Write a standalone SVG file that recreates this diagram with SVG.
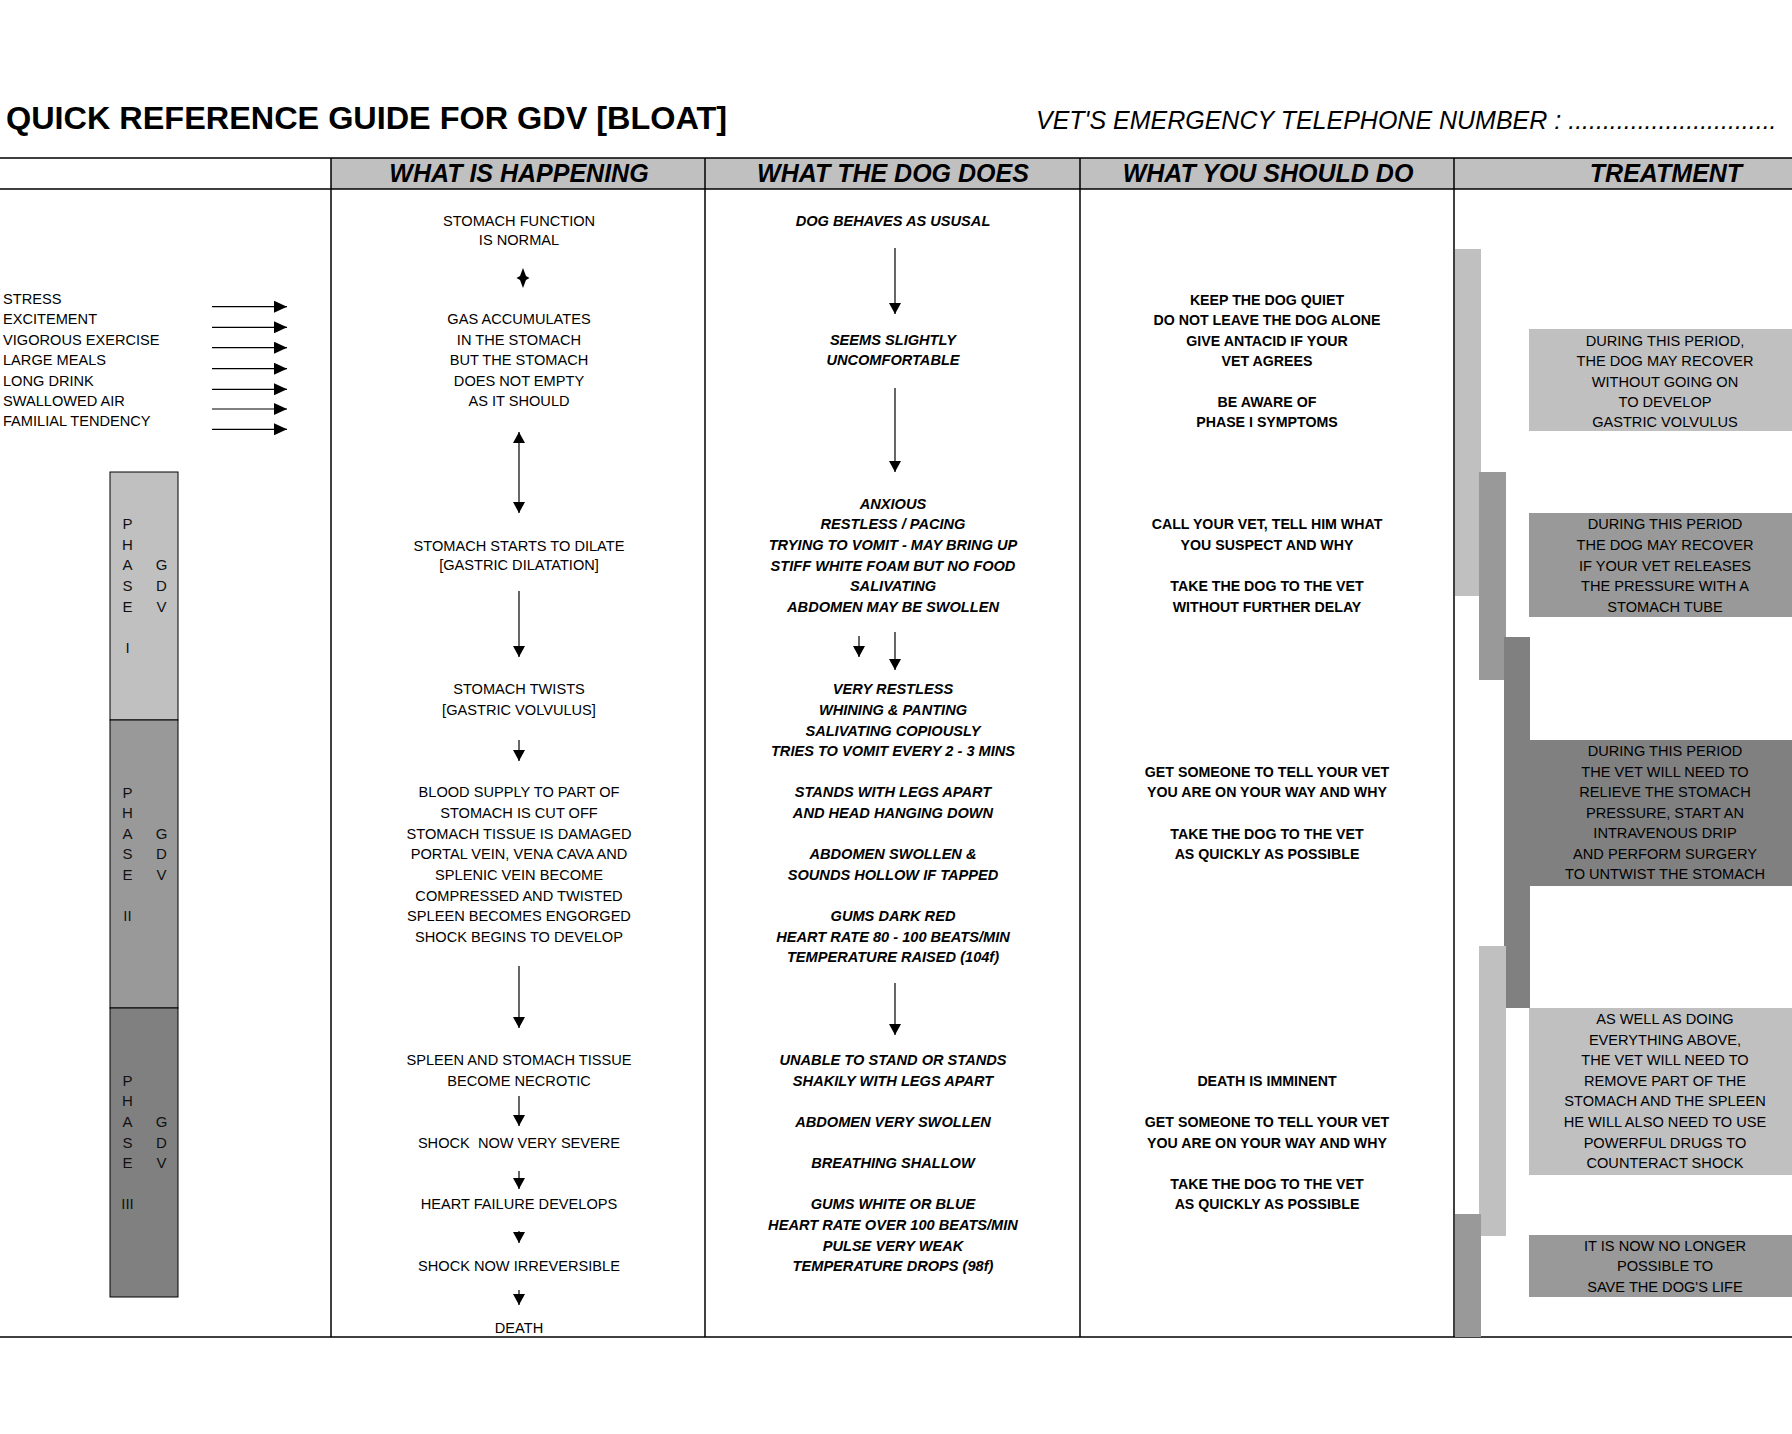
<svg xmlns="http://www.w3.org/2000/svg" width="1792" height="1434" viewBox="0 0 1792 1434">
<style>
text{font-family:"Liberation Sans",Arial,sans-serif;fill:#000}
.t{font-size:14.6px;text-anchor:middle}
.l{font-size:14.6px}
.bi{font-size:14.6px;text-anchor:middle;font-weight:bold;font-style:italic}
.b{font-size:14.2px;text-anchor:middle;font-weight:bold}
.ph{font-size:15px;text-anchor:middle;fill:#111}
.hd{font-size:25px;text-anchor:middle;font-weight:bold;font-style:italic}
.tl{stroke:#000;stroke-width:1.5;fill:none}
.ar{stroke:#000;stroke-width:1.2;fill:none;marker-end:url(#ah)}
.ar2{stroke:#000;stroke-width:1.2;fill:none;marker-end:url(#ah);marker-start:url(#ah)}
.arl{stroke:#000;stroke-width:1.2;fill:none;marker-end:url(#ahL)}
.g1{fill:#c0c0c0}
.g2{fill:#999999}
.g3{fill:#808080}
</style>
<defs>
<marker id="ah" viewBox="0 0 11 12" refX="11" refY="6" markerWidth="11" markerHeight="12" markerUnits="userSpaceOnUse" orient="auto-start-reverse"><path d="M0,0 L11,6 L0,12 z" fill="#000"/></marker>
<marker id="ahL" viewBox="0 0 13 12" refX="13" refY="6" markerWidth="13" markerHeight="12" markerUnits="userSpaceOnUse" orient="auto"><path d="M0,0 L13,6 L0,12 z" fill="#000"/></marker>
</defs>
<rect width="1792" height="1434" fill="#fff"/>

<g id="title">
<text x="6" y="129" style="font-size:32px;font-weight:bold" textLength="721" lengthAdjust="spacingAndGlyphs">QUICK REFERENCE GUIDE FOR GDV [BLOAT]</text>
<text x="1036" y="129" style="font-size:25px;font-style:italic">VET'S EMERGENCY TELEPHONE NUMBER : ..............................</text>
</g>

<g id="table">
<rect x="331" y="158" width="1461" height="31" class="g1"/>
<line x1="0" y1="158" x2="1792" y2="158" class="tl"/>
<line x1="0" y1="189" x2="1792" y2="189" class="tl"/>
<line x1="0" y1="1337" x2="1792" y2="1337" class="tl"/>
<line x1="331" y1="158" x2="331" y2="1337" class="tl"/>
<line x1="705" y1="158" x2="705" y2="1337" class="tl"/>
<line x1="1080" y1="158" x2="1080" y2="1337" class="tl"/>
<line x1="1454" y1="158" x2="1454" y2="1337" class="tl"/>
<text x="519" y="182" class="hd">WHAT IS HAPPENING</text>
<text x="893" y="182" class="hd">WHAT THE DOG DOES</text>
<text x="1268" y="182" class="hd">WHAT YOU SHOULD DO</text>
<text x="1666" y="182" class="hd">TREATMENT</text>
</g>

<g id="risk-factors">
<text x="3" y="304" class="l">STRESS</text>
<text x="3" y="324" class="l">EXCITEMENT</text>
<text x="3" y="344.5" class="l">VIGOROUS EXERCISE</text>
<text x="3" y="365" class="l">LARGE MEALS</text>
<text x="3" y="386" class="l">LONG DRINK</text>
<text x="3" y="406" class="l">SWALLOWED AIR</text>
<text x="3" y="426" class="l">FAMILIAL TENDENCY</text>
</g>

<g id="phase-1">
<rect x="110" y="472" width="68" height="248" class="g1" stroke="#000" stroke-width="1"/>
<text x="127.5" y="529" class="ph">P</text>
<text x="127.5" y="550" class="ph">H</text>
<text x="127.5" y="570" class="ph">A</text>
<text x="127.5" y="591" class="ph">S</text>
<text x="127.5" y="611.5" class="ph">E</text>
<text x="127.5" y="652.5" class="ph">I</text>
<text x="161.5" y="570" class="ph">G</text>
<text x="161.5" y="591" class="ph">D</text>
<text x="161.5" y="611.5" class="ph">V</text>
</g>
<g id="phase-2">
<rect x="110" y="720" width="68" height="288" class="g2" stroke="#000" stroke-width="1"/>
<text x="127.5" y="797.5" class="ph">P</text>
<text x="127.5" y="818" class="ph">H</text>
<text x="127.5" y="838.5" class="ph">A</text>
<text x="127.5" y="859" class="ph">S</text>
<text x="127.5" y="880" class="ph">E</text>
<text x="127.5" y="921" class="ph">II</text>
<text x="161.5" y="838.5" class="ph">G</text>
<text x="161.5" y="859" class="ph">D</text>
<text x="161.5" y="880" class="ph">V</text>
</g>
<g id="phase-3">
<rect x="110" y="1008" width="68" height="289" class="g3" stroke="#000" stroke-width="1"/>
<text x="127.5" y="1085.7" class="ph">P</text>
<text x="127.5" y="1106" class="ph">H</text>
<text x="127.5" y="1127" class="ph">A</text>
<text x="127.5" y="1148" class="ph">S</text>
<text x="127.5" y="1168" class="ph">E</text>
<text x="127.5" y="1209" class="ph">III</text>
<text x="161.5" y="1127" class="ph">G</text>
<text x="161.5" y="1148" class="ph">D</text>
<text x="161.5" y="1168" class="ph">V</text>
</g>

<g id="happening">
<text x="519" y="226" class="t">STOMACH FUNCTION</text>
<text x="519" y="245" class="t">IS NORMAL</text>
<text x="519" y="324" class="t">GAS ACCUMULATES</text>
<text x="519" y="345" class="t">IN THE STOMACH</text>
<text x="519" y="365" class="t">BUT THE STOMACH</text>
<text x="519" y="386" class="t">DOES NOT EMPTY</text>
<text x="519" y="406" class="t">AS IT SHOULD</text>
<text x="519" y="550.5" class="t">STOMACH STARTS TO DILATE</text>
<text x="519" y="570" class="t">[GASTRIC DILATATION]</text>
<text x="519" y="694" class="t">STOMACH TWISTS</text>
<text x="519" y="715" class="t">[GASTRIC VOLVULUS]</text>
<text x="519" y="797" class="t">BLOOD SUPPLY TO PART OF</text>
<text x="519" y="818" class="t">STOMACH IS CUT OFF</text>
<text x="519" y="838.5" class="t">STOMACH TISSUE IS DAMAGED</text>
<text x="519" y="859" class="t">PORTAL VEIN, VENA CAVA AND</text>
<text x="519" y="880" class="t">SPLENIC VEIN BECOME</text>
<text x="519" y="900.5" class="t">COMPRESSED AND TWISTED</text>
<text x="519" y="921" class="t">SPLEEN BECOMES ENGORGED</text>
<text x="519" y="941.5" class="t">SHOCK BEGINS TO DEVELOP</text>
<text x="519" y="1065" class="t">SPLEEN AND STOMACH TISSUE</text>
<text x="519" y="1086" class="t">BECOME NECROTIC</text>
<text x="519" y="1148" class="t" style="white-space:pre">SHOCK  NOW VERY SEVERE</text>
<text x="519" y="1209" class="t">HEART FAILURE DEVELOPS</text>
<text x="519" y="1271" class="t">SHOCK NOW IRREVERSIBLE</text>
<text x="519" y="1333" class="t">DEATH</text>
</g>

<g id="dog-does">
<text x="893" y="226" class="bi">DOG BEHAVES AS USUSAL</text>
<text x="893" y="345" class="bi">SEEMS SLIGHTLY</text>
<text x="893" y="365" class="bi">UNCOMFORTABLE</text>
<text x="893" y="509" class="bi">ANXIOUS</text>
<text x="893" y="529" class="bi">RESTLESS / PACING</text>
<text x="893" y="550" class="bi">TRYING TO VOMIT - MAY BRING UP</text>
<text x="893" y="570.5" class="bi">STIFF WHITE FOAM BUT NO FOOD</text>
<text x="893" y="591" class="bi">SALIVATING</text>
<text x="893" y="611.5" class="bi">ABDOMEN MAY BE SWOLLEN</text>
<text x="893" y="694" class="bi">VERY RESTLESS</text>
<text x="893" y="715" class="bi">WHINING &amp; PANTING</text>
<text x="893" y="735.5" class="bi">SALIVATING COPIOUSLY</text>
<text x="893" y="756" class="bi">TRIES TO VOMIT EVERY 2 - 3 MINS</text>
<text x="893" y="797" class="bi">STANDS WITH LEGS APART</text>
<text x="893" y="818" class="bi">AND HEAD HANGING DOWN</text>
<text x="893" y="859" class="bi">ABDOMEN SWOLLEN &amp;</text>
<text x="893" y="880" class="bi">SOUNDS HOLLOW IF TAPPED</text>
<text x="893" y="921" class="bi">GUMS DARK RED</text>
<text x="893" y="941.5" class="bi">HEART RATE 80 - 100 BEATS/MIN</text>
<text x="893" y="962" class="bi">TEMPERATURE RAISED (104f)</text>
<text x="893" y="1065" class="bi">UNABLE TO STAND OR STANDS</text>
<text x="893" y="1085.5" class="bi">SHAKILY WITH LEGS APART</text>
<text x="893" y="1127" class="bi">ABDOMEN VERY SWOLLEN</text>
<text x="893" y="1168" class="bi">BREATHING SHALLOW</text>
<text x="893" y="1209" class="bi">GUMS WHITE OR BLUE</text>
<text x="893" y="1230" class="bi">HEART RATE OVER 100 BEATS/MIN</text>
<text x="893" y="1250.5" class="bi">PULSE VERY WEAK</text>
<text x="893" y="1271" class="bi">TEMPERATURE DROPS (98f)</text>
</g>

<g id="you-should-do">
<text x="1267" y="305" class="b">KEEP THE DOG QUIET</text>
<text x="1267" y="325" class="b">DO NOT LEAVE THE DOG ALONE</text>
<text x="1267" y="345.5" class="b">GIVE ANTACID IF YOUR</text>
<text x="1267" y="365.5" class="b">VET AGREES</text>
<text x="1267" y="406.5" class="b">BE AWARE OF</text>
<text x="1267" y="426.5" class="b">PHASE I SYMPTOMS</text>
<text x="1267" y="529" class="b">CALL YOUR VET, TELL HIM WHAT</text>
<text x="1267" y="550" class="b">YOU SUSPECT AND WHY</text>
<text x="1267" y="591" class="b">TAKE THE DOG TO THE VET</text>
<text x="1267" y="611.5" class="b">WITHOUT FURTHER DELAY</text>
<text x="1267" y="776.5" class="b">GET SOMEONE TO TELL YOUR VET</text>
<text x="1267" y="797" class="b">YOU ARE ON YOUR WAY AND WHY</text>
<text x="1267" y="838.5" class="b">TAKE THE DOG TO THE VET</text>
<text x="1267" y="859" class="b">AS QUICKLY AS POSSIBLE</text>
<text x="1267" y="1086" class="b">DEATH IS IMMINENT</text>
<text x="1267" y="1127" class="b">GET SOMEONE TO TELL YOUR VET</text>
<text x="1267" y="1148" class="b">YOU ARE ON YOUR WAY AND WHY</text>
<text x="1267" y="1189" class="b">TAKE THE DOG TO THE VET</text>
<text x="1267" y="1209" class="b">AS QUICKLY AS POSSIBLE</text>
</g>

<g id="treatment-bars">
<rect x="1455" y="249" width="26" height="347" class="g1"/>
<rect x="1479" y="472" width="27" height="208" class="g2"/>
<rect x="1504" y="637" width="26" height="371" class="g3"/>
<rect x="1479" y="946" width="27" height="290" class="g1"/>
<rect x="1455" y="1214" width="26" height="123" class="g2"/>
</g>

<g id="treatment-1">
<rect x="1529" y="329" width="263" height="102" class="g1"/>
<text x="1665" y="345.5" class="t">DURING THIS PERIOD,</text>
<text x="1665" y="365.5" class="t">THE DOG MAY RECOVER</text>
<text x="1665" y="386.5" class="t">WITHOUT GOING ON</text>
<text x="1665" y="406.5" class="t">TO DEVELOP</text>
<text x="1665" y="426.5" class="t">GASTRIC VOLVULUS</text>
</g>
<g id="treatment-2">
<rect x="1529" y="513" width="263" height="104" class="g2"/>
<text x="1665" y="529" class="t">DURING THIS PERIOD</text>
<text x="1665" y="550" class="t">THE DOG MAY RECOVER</text>
<text x="1665" y="570.5" class="t">IF YOUR VET RELEASES</text>
<text x="1665" y="591" class="t">THE PRESSURE WITH A</text>
<text x="1665" y="611.5" class="t">STOMACH TUBE</text>
</g>
<g id="treatment-3">
<rect x="1529" y="740" width="263" height="146" class="g3"/>
<text x="1665" y="756" class="t">DURING THIS PERIOD</text>
<text x="1665" y="777" class="t">THE VET WILL NEED TO</text>
<text x="1665" y="797" class="t">RELIEVE THE STOMACH</text>
<text x="1665" y="817.5" class="t">PRESSURE, START AN</text>
<text x="1665" y="838" class="t">INTRAVENOUS DRIP</text>
<text x="1665" y="859" class="t">AND PERFORM SURGERY</text>
<text x="1665" y="879" class="t">TO UNTWIST THE STOMACH</text>
</g>
<g id="treatment-4">
<rect x="1529" y="1008" width="263" height="167" class="g1"/>
<text x="1665" y="1024" class="t">AS WELL AS DOING</text>
<text x="1665" y="1044.5" class="t">EVERYTHING ABOVE,</text>
<text x="1665" y="1065" class="t">THE VET WILL NEED TO</text>
<text x="1665" y="1086" class="t">REMOVE PART OF THE</text>
<text x="1665" y="1106" class="t">STOMACH AND THE SPLEEN</text>
<text x="1665" y="1127" class="t">HE WILL ALSO NEED TO USE</text>
<text x="1665" y="1147.5" class="t">POWERFUL DRUGS TO</text>
<text x="1665" y="1168" class="t">COUNTERACT SHOCK</text>
</g>
<g id="treatment-5">
<rect x="1529" y="1235" width="263" height="62" class="g2"/>
<text x="1665" y="1251" class="t">IT IS NOW NO LONGER</text>
<text x="1665" y="1271" class="t">POSSIBLE TO</text>
<text x="1665" y="1292" class="t">SAVE THE DOG'S LIFE</text>
</g>

<g id="connectors">
<line x1="212" y1="306.7" x2="287" y2="306.7" class="arl"/>
<line x1="212" y1="327.3" x2="287" y2="327.3" class="arl"/>
<line x1="212" y1="347.7" x2="287" y2="347.7" class="arl"/>
<line x1="212" y1="368.7" x2="287" y2="368.7" class="arl"/>
<line x1="212" y1="389.3" x2="287" y2="389.3" class="arl"/>
<line x1="212" y1="409" x2="287" y2="409" class="arl"/>
<line x1="212" y1="429.3" x2="287" y2="429.3" class="arl"/>
<path d="M523,268 L526,276 L529.5,278 L526,280 L523,288 L520,280 L516.5,278 L520,276 Z" fill="#000"/>
<line x1="519" y1="432" x2="519" y2="513" class="ar2"/>
<line x1="519" y1="591" x2="519" y2="657" class="ar"/>
<line x1="519" y1="740" x2="519" y2="761" class="ar"/>
<line x1="519" y1="966" x2="519" y2="1028" class="ar"/>
<line x1="519" y1="1096" x2="519" y2="1126" class="ar"/>
<line x1="519" y1="1171" x2="519" y2="1189" class="ar"/>
<line x1="519" y1="1231" x2="519" y2="1243" class="ar"/>
<line x1="519" y1="1290" x2="519" y2="1305" class="ar"/>
<line x1="895" y1="248" x2="895" y2="314" class="ar"/>
<line x1="895" y1="388" x2="895" y2="472" class="ar"/>
<line x1="859" y1="636" x2="859" y2="657" class="ar"/>
<line x1="895" y1="632" x2="895" y2="670" class="ar"/>
<line x1="895" y1="983" x2="895" y2="1035" class="ar"/>
</g>
</svg>
